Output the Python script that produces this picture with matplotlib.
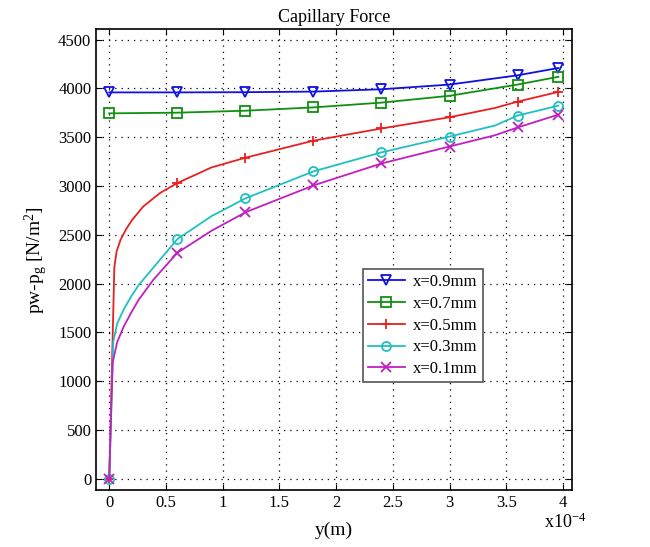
import matplotlib
matplotlib.use('Agg')
import matplotlib.pyplot as plt

plt.rcParams['font.family'] = ['Liberation Serif', 'DejaVu Serif']
plt.rcParams['mathtext.fontset'] = 'custom'
plt.rcParams['mathtext.rm'] = 'Liberation Serif'
plt.rcParams['mathtext.it'] = 'Liberation Serif:italic'

# y positions in units of 1e-4 m
marker_x = [0, 0.6, 1.2, 1.8, 2.4, 3.0, 3.6, 3.96]

y09 = [0, 0.6, 1.2, 1.8, 2.4, 3.0, 3.6, 3.96]
p09 = [3960, 3960, 3962, 3968, 3992, 4040, 4135, 4210]

y07 = [0, 0.6, 1.2, 1.8, 2.4, 3.0, 3.6, 3.96]
p07 = [3745, 3752, 3772, 3806, 3855, 3925, 4040, 4120]

y05 = [0, 0.045, 0.065, 0.1, 0.15, 0.2, 0.3, 0.45, 0.6, 0.9, 1.2, 1.8, 2.4, 3.0, 3.4, 3.6, 3.96]
p05 = [0, 2170, 2330, 2450, 2560, 2650, 2790, 2930, 3030, 3190, 3290, 3465, 3590, 3705, 3800, 3865, 3965]

y03 = [0, 0.035, 0.07, 0.13, 0.2, 0.26, 0.39, 0.6, 0.9, 1.2, 1.8, 2.4, 3.0, 3.4, 3.6, 3.96]
p03 = [0, 1400, 1590, 1740, 1880, 1985, 2165, 2455, 2690, 2873, 3150, 3345, 3507, 3620, 3722, 3824]

y01 = [0, 0.03, 0.07, 0.13, 0.2, 0.26, 0.39, 0.6, 0.9, 1.2, 1.8, 2.4, 3.0, 3.4, 3.6, 3.96]
p01 = [0, 1190, 1400, 1565, 1715, 1835, 2040, 2315, 2540, 2730, 3006, 3231, 3405, 3520, 3600, 3732]

labels = ['x=0.9mm', 'x=0.7mm', 'x=0.5mm', 'x=0.3mm', 'x=0.1mm']
colors = ['#1010e0', '#109010', '#e82020', '#20c0c0', '#c020c0']
markers = ['v', 's', '+', 'o', 'x']

fig = plt.figure(figsize=(6.5, 5.47), dpi=100)
ax = fig.add_axes([0.148, 0.104, 0.732, 0.843])

series = [(y09, p09), (y07, p07), (y05, p05), (y03, p03), (y01, p01)]
for (xs, ps), lab, c, m in zip(series, labels, colors, markers):
    idx = [i for i, v in enumerate(xs) if v in marker_x]
    ax.plot(xs, ps, color=c, lw=1.3, marker=m, markevery=idx, ms=6.5,
            mfc='none', mec=c, mew=1.3, label=lab)

ax.set_xlim(-0.115, 4.08)
ax.set_ylim(-118, 4610)
ax.set_xticks([0, 0.5, 1, 1.5, 2, 2.5, 3, 3.5, 4])
ax.set_xticklabels(['0', '0.5', '1', '1.5', '2', '2.5', '3', '3.5', '4'])
ax.set_yticks(range(0, 4501, 500))
ax.tick_params(direction='in', top=True, right=True, labelsize=12, length=4)
ax.grid(True, color='black', linestyle=(0, (1, 4)), linewidth=0.9)
for s in ax.spines.values():
    s.set_linewidth(1.2)

ax.set_title('Capillary Force', fontsize=13, pad=5)
ax.set_xlabel('y(m)', fontsize=14, labelpad=8)
ax.set_ylabel(r'pw-p$_{\rm g}$ [N/m$^2$]', fontsize=14, labelpad=6)
fig.text(0.87, 0.035, r'x10$^{-4}$', fontsize=13, ha='center')

leg = ax.legend(loc='lower left', bbox_to_anchor=(0.561, 0.234), fontsize=12,
                fancybox=False, edgecolor='#555555', framealpha=1,
                handlelength=2.2, borderpad=0.3, labelspacing=0.35,
                handletextpad=0.5, borderaxespad=0)
leg.get_frame().set_linewidth(1.2)

fig.savefig('out.png', dpi=100)
